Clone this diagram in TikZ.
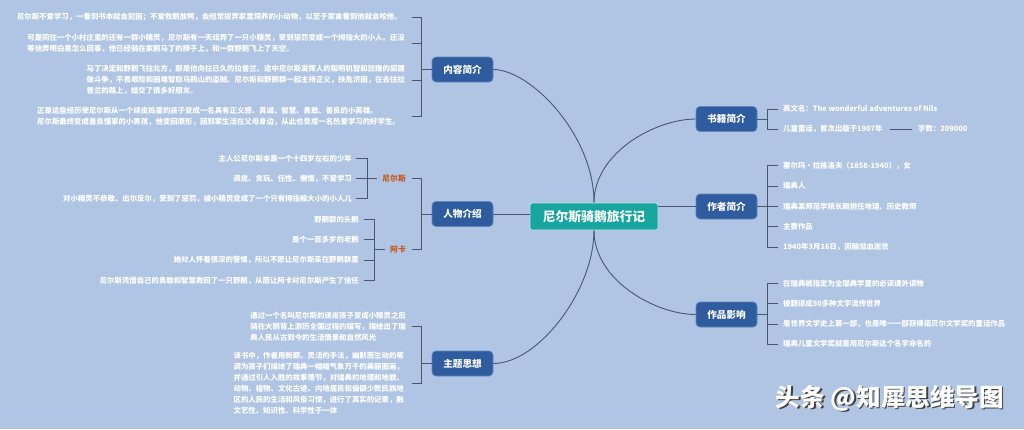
\documentclass[tikz,border=0pt]{standalone}
\usepackage{fontspec}
\setmainfont{Noto Sans CJK SC}
\usetikzlibrary{calc}
\definecolor{bgc}{HTML}{B0C4E4}
\definecolor{nodeblue}{HTML}{2E5C9E}
\definecolor{centerteal}{HTML}{16A59F}
\definecolor{lnc}{HTML}{4A566B}
\definecolor{orng}{HTML}{C55A1B}
\begin{document}
\begin{tikzpicture}[x=1pt,y=-1pt,
  topic/.style={draw=nodeblue!75!white, line width=0.6pt, fill=nodeblue, rounded corners=4pt,
    minimum width=61pt, minimum height=25pt, inner sep=0pt, text=white,
    font=\fontsize{9.6}{11}\selectfont\bfseries},
  central/.style={draw=white!75!centerteal, line width=0.8pt, fill=centerteal, rounded corners=2pt,
    minimum width=128pt, minimum height=27pt, inner sep=0pt, text=white,
    font=\fontsize{12.8}{14}\selectfont\bfseries},
  leaf/.style={inner sep=0pt, text=white, align=left,
    font=\fontsize{7.4}{11}\selectfont\bfseries},
  lab/.style={inner sep=0pt, text=orng, font=\fontsize{7.8}{10}\selectfont\bfseries},
  conn/.style={draw=lnc, line width=0.9pt},
  wmark/.style={font=\fontsize{24.6}{27}\selectfont\bfseries, inner sep=0pt}
]
\fill[bgc] (0,0) rectangle (1024,429);
\useasboundingbox (0,0) rectangle (1024,429);

% main nodes
\node[central] (c) at (594,216.5) {尼尔斯骑鹅旅行记};
\node[topic] (nr) at (462.5,69.5) {内容简介};
\node[topic] (rw) at (462.5,214) {人物介绍};
\node[topic] (zt) at (462.5,363.5) {主题思想};
\node[topic] (sj) at (726.5,119) {书籍简介};
\node[topic] (zz) at (726.5,206.5) {作者简介};
\node[topic] (zp) at (726.5,314.5) {作品影响};

% main connectors
\draw[conn] (c.north) .. controls +(0,-68) and +(37,0) .. (nr.east);
\draw[conn] (c.north) .. controls +(0,-50) and +(-40,0) .. (sj.west);
\draw[conn] (c.south) .. controls +(0,60) and +(45,0) .. (zt.east);
\draw[conn] (c.south) .. controls +(0,50) and +(-40,0) .. (zp.west);
\draw[conn] (rw.east) -- (rw.east -| c.west);
\draw[conn] (zz.west) -- (zz.west -| c.east);

% ---- 内容简介
\node[leaf, anchor=east] (a1) at (402,17) {尼尔斯不爱学习，一看到书本就会犯困；不爱牧鹅放鸭，会经常捉弄家里饲养的小动物，以至于家禽看到他就会咬他。};
\node[leaf, anchor=east] (a2) at (405,43.5) {可是同住一个小村庄里的还有一群小精灵，尼尔斯有一天戏弄了一只小精灵，受到惩罚变成一个拇指大的小人。还没\\等他弄明白是怎么回事，他已经骑在家鹅马丁的脖子上，和一群野鹅飞上了天空。};
\node[leaf, anchor=east] (a3) at (405,80) {马丁决定和野鹅飞往北方，那是他向往已久的拉普兰。途中尼尔斯发挥人的聪明机智和狡猾的狐狸\\做斗争，不畏艰险和困难智取乌鸦山的盗贼。尼尔斯和野鹅群一起主持正义，扶危济困，在去往拉\\普兰的路上，结交了很多好朋友。};
\node[leaf, anchor=east] (a4) at (400,116.5) {正是这些经历使尼尔斯从一个顽皮捣蛋的孩子变成一名具有正义感、真诚、智慧、勇敢、善良的小英雄。\\尼尔斯最终变成善良懂事的小男孩，他变回原形，回到家生活在父母身边，从此也变成一名热爱学习的好学生。};
\draw[conn] (nr.west) -- ++(-10,0) coordinate (bk1);
\foreach \t in {a1,a2,a3,a4} \draw[conn] ([xshift=-10pt]bk1 |- \t.east) -| (bk1);

% ---- 人物介绍
\draw[conn] (rw.west) -- ++(-10,0) coordinate (bk2);
\node[lab, anchor=east] (ne) at (406,178.5) {尼尔斯};
\node[lab, anchor=east] (ak) at (406,249.5) {阿卡};
\draw[conn] ([xshift=6pt]ne.east) -| (bk2);
\draw[conn] ([xshift=6pt]ak.east) -| (bk2);

\node[leaf, anchor=east] (n1) at (352,158.3) {主人公尼尔斯本是一个十四岁左右的少年};
\node[leaf, anchor=east] (n2) at (352,178.7) {调皮、贪玩、任性、懒惰，不爱学习};
\node[leaf, anchor=east] (n3) at (352,198.7) {对小精灵不恭敬、出尔反尔，受到了惩罚，被小精灵变成了一个只有拇指般大小的小人儿};
\draw[conn] ([xshift=-5pt]ne.west) -- ++(-10,0) coordinate (bk3);
\foreach \t in {n1,n2,n3} \draw[conn] ([xshift=-11pt]bk3 |- \t.east) -| (bk3);

\node[leaf, anchor=east] (k1) at (359,219.3) {野鹅群的头鹅};
\node[leaf, anchor=east] (k2) at (359,239.7) {是个一百多岁的老鹅};
\node[leaf, anchor=east] (k3) at (359,260) {她对人怀着很深的警惕，所以不愿让尼尔斯呆在野鹅群里};
\node[leaf, anchor=east] (k4) at (359,280.7) {尼尔斯凭借自己的勇敢和智慧救回了一只野鹅，从而让阿卡对尼尔斯产生了信任};
\draw[conn] ([xshift=-5pt]ak.west) -- ++(-11,0) coordinate (bk4);
\foreach \t in {k1,k2,k3,k4} \draw[conn] ([xshift=-10pt]bk4 |- \t.east) -| (bk4);

% ---- 主题思想
\node[leaf, anchor=east] (z1) at (406,326.8) {通过一个名叫尼尔斯的顽皮孩子变成小精灵之后\\骑在大鹅背上游历全国过程的描写，描绘出了瑞\\典人民从古到今的生活情景和自然风光};
\node[leaf, anchor=east] (z2) at (404,383.3) {该书中，作者用新颖、灵活的手法，幽默而生动的笔\\调为孩子们描绘了瑞典一幅幅气象万千的美丽图画，\\并通过引人入胜的故事情节，对瑞典的地理和地貌、\\动物、植物、文化古迹、内地居民和偏僻少数民族地\\区的人民的生活和风俗习惯，进行了真实的记录，融\\文艺性、知识性、科学性于一体};
\draw[conn] (zt.west) -- ++(-10,0) coordinate (bk5);
\foreach \t in {z1,z2} \draw[conn] ([xshift=-10pt]bk5 |- \t.east) -| (bk5);

% ---- 书籍简介
\node[leaf, anchor=west] (s1) at (783,109) {英文名：The wonderful adventures of Nils};
\node[leaf, anchor=west] (s2) at (783,129) {儿童童话，首次出版于1907年};
\node[leaf, anchor=west] (s3) at (918,129) {字数：209000};
\draw[conn] (sj.east) -- ++(10,0) coordinate (bk6);
\foreach \t in {s1,s2} \draw[conn] ([xshift=11pt]bk6 |- \t.west) -| (bk6);
\draw[conn] ([xshift=7pt]s2.east) -- ([xshift=-6pt]s3.west);

% ---- 作者简介
\node[leaf, anchor=west] (w1) at (783,165.7) {塞尔玛·拉格洛夫（1858-1940），女};
\node[leaf, anchor=west] (w2) at (783,186) {瑞典人};
\node[leaf, anchor=west] (w3) at (783,206.3) {瑞典某师范学院长期担任地理、历史教师};
\node[leaf, anchor=west] (w4) at (783,226.7) {主要作品};
\node[leaf, anchor=west] (w5) at (783,247.3) {1940年3月16日，因脑溢血逝世};
\draw[conn] (zz.east) -- ++(10,0) coordinate (bk7);
\foreach \t in {w1,w2,w3,w4,w5} \draw[conn] ([xshift=11pt]bk7 |- \t.west) -| (bk7);

% ---- 作品影响
\node[leaf, anchor=west] (p1) at (783,283.3) {在瑞典被指定为全瑞典学童的必读课外读物};
\node[leaf, anchor=west] (p2) at (783,303.5) {被翻译成50多种文字流传世界};
\node[leaf, anchor=west] (p3) at (783,324) {是世界文学史上第一部，也是唯一一部获得诺贝尔文学奖的童话作品};
\node[leaf, anchor=west] (p4) at (783,344) {瑞典儿童文学奖就是用尼尔斯这个名字命名的};
\draw[conn] (zp.east) -- ++(10,0) coordinate (bk8);
\foreach \t in {p1,p2,p3,p4} \draw[conn] ([xshift=11pt]bk8 |- \t.west) -| (bk8);

% watermark
\node[wmark, text=black!75] (wms) at (891.5,399.5) {头条 @知犀思维导图};
\node[wmark, text=white] (wm) at (890,398) {头条 @知犀思维导图};
\end{tikzpicture}
\end{document}
